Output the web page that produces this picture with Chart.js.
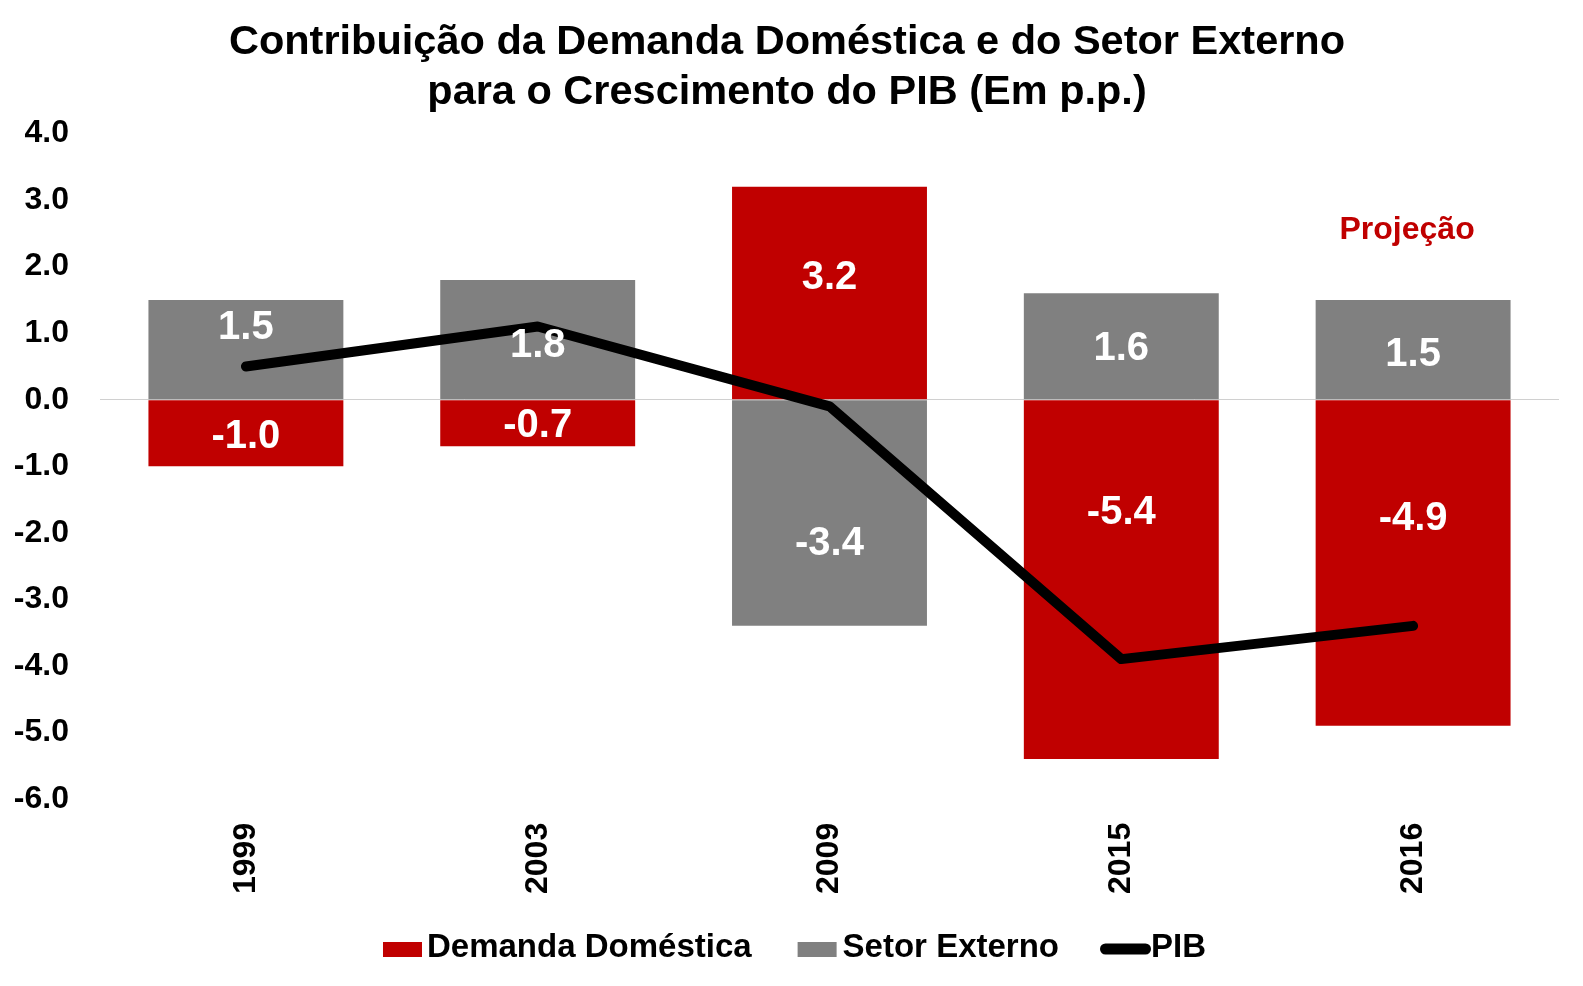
<!DOCTYPE html>
<html lang="pt-BR">
<head>
<meta charset="UTF-8">
<title>Contribuição da Demanda Doméstica e do Setor Externo</title>
<script src="https://cdn.jsdelivr.net/npm/chart.js"></script>
<style>
  html, body { margin: 0; padding: 0; background: #fff; }
  #wrap { width: 1583px; height: 986px; }
</style>
</head>
<body>
<div id="wrap"><canvas id="myChart"></canvas></div>
<script>
// Data (p.p.)
const years = ['1999', '2003', '2009', '2015', '2016'];
const demandaDomestica = [-1.0, -0.7, 3.2, -5.4, -4.9];
const setorExterno = [1.5, 1.8, -3.4, 1.6, 1.5];
const pib = [0.5, 1.1, -0.1, -3.9, -3.4];
const yMin = -6, yMax = 4, yStep = 1;

const FONT = '"Liberation Sans", Arial, sans-serif';
const RED = '#c00000';
const GRAY = '#808080';

// white value labels inside the bars (small pixel nudges like the original)
const barLabels = {
    id: 'barLabels',
    afterDatasetsDraw(chart, args, opts) {
        const ctx = chart.ctx;
        ctx.save();
        ctx.font = 'bold 40px ' + FONT;
        ctx.fillStyle = '#fff';
        ctx.textAlign = 'center';
        ctx.textBaseline = 'alphabetic';
        chart.data.datasets.forEach((ds, i) => {
            if (ds.type === 'line') return;
            const meta = chart.getDatasetMeta(i);
            const shift = opts.shift[i] || [];
            meta.data.forEach((bar, j) => {
                const cy = (bar.y + bar.base) / 2 + (shift[j] || 0);
                ctx.fillText(ds.data[j].toFixed(1), bar.x, cy + 14);
            });
        });
        // "Projeção" note above the last column
        const x = chart.scales.x.getPixelForValue(4);
        const y = chart.scales.y.getPixelForValue(2.55);
        ctx.font = 'bold 32px ' + FONT;
        ctx.fillStyle = RED;
        ctx.textBaseline = 'middle';
        ctx.fillText('Projeção', x - 6, y);
        ctx.restore();
    }
};

// legend drawn by hand to get the tight Excel-like spacing
const bottomLegend = {
    id: 'bottomLegend',
    afterDraw(chart) {
        const ctx = chart.ctx;
        const items = [
            { text: 'Demanda Doméstica', kind: 'box', color: RED, w: 39, gap: 5, after: 46 },
            { text: 'Setor Externo', kind: 'box', color: GRAY, w: 39, gap: 6, after: 41 },
            { text: 'PIB', kind: 'line', color: '#000', w: 51, gap: 0, after: 0 }
        ];
        ctx.save();
        ctx.font = 'bold 33px ' + FONT;
        let total = 0;
        items.forEach(it => {
            it.tw = ctx.measureText(it.text).width;
            total += it.w + it.gap + it.tw + it.after;
        });
        let x = (chart.width - total) / 2 + 3;
        const base = 957;
        items.forEach(it => {
            if (it.kind === 'box') {
                ctx.fillStyle = it.color;
                ctx.fillRect(x, base - 15, it.w, 15);
            } else {
                ctx.strokeStyle = it.color;
                ctx.lineWidth = 11;
                ctx.lineCap = 'round';
                ctx.beginPath();
                ctx.moveTo(x + 5.5, base - 8);
                ctx.lineTo(x + it.w - 5.5, base - 8);
                ctx.stroke();
            }
            x += it.w + it.gap;
            ctx.fillStyle = '#000';
            ctx.textAlign = 'left';
            ctx.textBaseline = 'alphabetic';
            ctx.fillText(it.text, x, base);
            x += it.tw + it.after;
        });
        ctx.restore();
    }
};

const ctx = document.getElementById('myChart').getContext('2d');
const myChart = new Chart(ctx, {
    data: {
        labels: years,
        datasets: [
            {
                type: 'line',
                label: 'PIB',
                data: pib,
                borderColor: '#000',
                backgroundColor: '#000',
                borderWidth: 10,
                borderCapStyle: 'round',
                borderJoinStyle: 'round',
                pointRadius: 0,
                tension: 0,
                stack: 'pib',
                order: 0
            },
            {
                type: 'bar',
                label: 'Demanda Doméstica',
                data: demandaDomestica,
                backgroundColor: RED,
                stack: 'comp',
                order: 1
            },
            {
                type: 'bar',
                label: 'Setor Externo',
                data: setorExterno,
                backgroundColor: GRAY,
                stack: 'comp',
                order: 1
            }
        ]
    },
    options: {
        responsive: true,
        maintainAspectRatio: false,
        animation: false,
        layout: { padding: { left: 15, right: 24, top: 0, bottom: 76 } },
        datasets: {
            bar: { barPercentage: 1, categoryPercentage: 0.668 }
        },
        scales: {
            x: {
                stacked: true,
                grid: { display: false },
                border: { display: false },
                ticks: {
                    color: '#000',
                    font: { family: FONT, size: 32, weight: 'bold' },
                    minRotation: 90,
                    maxRotation: 90,
                    padding: 16
                }
            },
            y: {
                stacked: true,
                min: yMin,
                max: yMax,
                border: { display: false },
                afterFit: s => { s.width = 85; },
                grid: {
                    drawTicks: false,
                    color: c => (c.tick && c.tick.value === 0) ? '#d0d0d0' : 'rgba(0,0,0,0)',
                    lineWidth: 1
                },
                ticks: {
                    stepSize: yStep,
                    color: '#000',
                    font: { family: FONT, size: 32, weight: 'bold' },
                    padding: 31,
                    callback: v => v.toFixed(1)
                }
            }
        },
        plugins: {
            legend: { display: false },
            tooltip: { enabled: false },
            title: {
                display: true,
                text: ['Contribuição da Demanda Doméstica e do Setor Externo', 'para o Crescimento do PIB (Em p.p.)'],
                color: '#000',
                font: { family: FONT, size: 41.5, weight: 'bold', lineHeight: 1.2 },
                padding: { top: 18, bottom: 16 }
            },
            barLabels: {
                shift: [
                    [],
                    [1, 0, -18, -70, -47],
                    [-25, 3, 28, 0, 2]
                ]
            }
        }
    },
    plugins: [barLabels, bottomLegend]
});
</script>
</body>
</html>
